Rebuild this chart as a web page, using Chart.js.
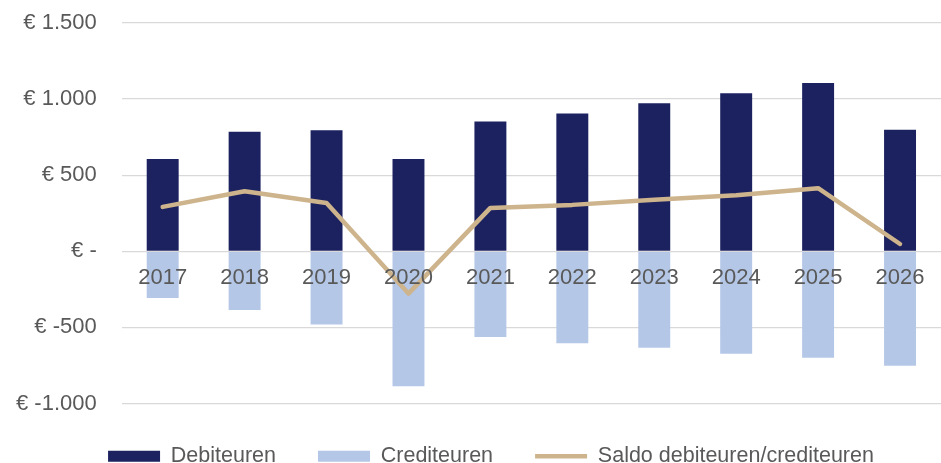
<!DOCTYPE html>
<html>
<head>
<meta charset="utf-8">
<script src="https://cdn.jsdelivr.net/npm/chart.js@4/dist/chart.umd.min.js"></script>
<style>
  html, body { margin: 0; padding: 0; background: #fff; }
  #wrap { width: 941px; height: 463px; }
</style>
</head>
<body>
<div id="wrap"><canvas id="saldo_chart" width="941" height="463"></canvas></div>
<script>
const years = ['2017', '2018', '2019', '2020', '2021', '2022', '2023', '2024', '2025', '2026'];
const debiteuren = [607, 785, 796, 607, 853, 906, 972, 1038, 1106, 798];
const crediteuren = [-307, -386, -481, -886, -563, -604, -633, -673, -699, -752];
const saldo = [292, 394, 318, -278, 285, 305, 338, 368, 415, 48];

const fontFamily = "'Liberation Sans', Arial, sans-serif";

function euro(value) {
  if (value === 0) return '€ -';
  let s = Math.abs(value).toString().replace(/\B(?=(\d{3})+(?!\d))/g, '.');
  return '€ ' + (value < 0 ? '-' : '') + s;
}

// legend in the original sits a bit right of the canvas centre
const shiftLegend = {
  id: 'shiftLegend',
  afterLayout(chart) {
    if (chart.legend) {
      chart.legend.left += 25;
      chart.legend.right += 25;
    }
  }
};

var ctx = document.getElementById('saldo_chart');
var saldoChart = new Chart(ctx, {
  type: 'bar',
  data: {
    labels: years,
    datasets: [{
      label: 'Debiteuren',
      data: debiteuren,
      backgroundColor: '#1C2260',
      stack: 'bars',
      pointStyle: 'rect',
      order: 1
    }, {
      label: 'Crediteuren',
      data: crediteuren,
      backgroundColor: '#B4C7E7',
      stack: 'bars',
      pointStyle: 'rect',
      order: 1
    }, {
      type: 'line',
      label: 'Saldo debiteuren/crediteuren',
      data: saldo,
      borderColor: '#CDB48C',
      backgroundColor: '#CDB48C',
      borderWidth: 4.5,
      borderCapStyle: 'round',
      borderJoinStyle: 'round',
      pointRadius: 0,
      pointStyle: 'line',
      stack: 'saldo',
      order: 0
    }]
  },
  options: {
    responsive: false,
    animation: false,
    layout: { padding: { left: -9, right: 0, top: 23, bottom: -14 } },
    datasets: {
      bar: { categoryPercentage: 1, barPercentage: 0.39 }
    },
    scales: {
      x: {
        stacked: true,
        position: { y: 0 },
        grid: { display: false, drawTicks: false },
        border: { display: false },
        ticks: {
          z: 1,
          color: '#595959',
          padding: 13,
          font: { family: fontFamily, size: 22 }
        }
      },
      y: {
        stacked: true,
        min: -1000,
        max: 1500,
        grid: { color: '#D9D9D9', lineWidth: 1.3, drawTicks: false },
        border: { display: false },
        ticks: {
          stepSize: 500,
          color: '#595959',
          padding: 25,
          font: { family: fontFamily, size: 22 },
          callback: value => euro(value)
        },
        afterFit: scale => {
          // labels may stick out above/below the plot, like the original
          scale.paddingTop = 0;
          scale.paddingBottom = 0;
        }
      }
    },
    plugins: {
      tooltip: { enabled: false },
      legend: {
        position: 'bottom',
        labels: {
          usePointStyle: true,
          pointStyleWidth: 52,
          boxHeight: 11,
          padding: 42,
          color: '#595959',
          font: { family: fontFamily, size: 21.5 },
          sort: (a, b) => a.datasetIndex - b.datasetIndex
        }
      }
    }
  },
  plugins: [shiftLegend]
});
</script>
</body>
</html>
